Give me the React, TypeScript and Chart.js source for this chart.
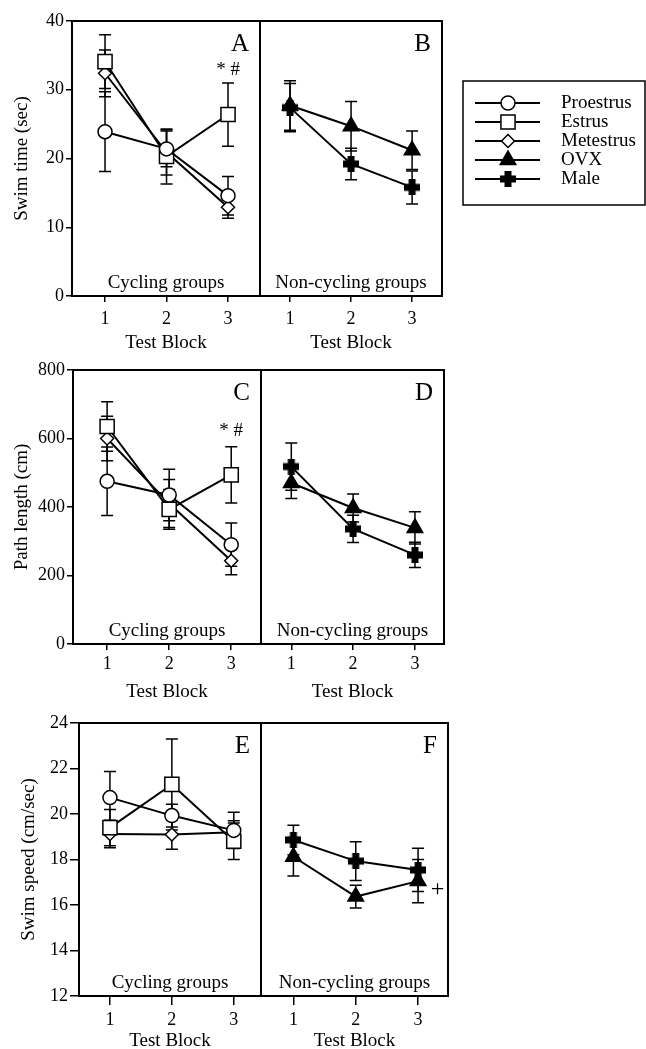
import React, { useEffect, useRef } from 'react';
import { Chart, registerables } from 'chart.js';
import { drawPoint } from 'chart.js/helpers';

Chart.register(...registerables);

const FONT = '"Liberation Serif", "Times New Roman", Times, serif';

// ---------------- data ----------------
const testBlocks = [1, 2, 3];
const seriesNames = ['Proestrus', 'Estrus', 'Metestrus', 'OVX', 'Male'];
const panelLetters = ['A', 'B', 'C', 'D', 'E', 'F'];
const groupLabels = ['Cycling groups', 'Non-cycling groups'];
const xAxisTitle = 'Test Block';
const yAxisTitles = ['Swim time (sec)', 'Path length (cm)', 'Swim speed (cm/sec)'];

const swimTimeTicks = [0, 10, 20, 30, 40];
const pathLengthTicks = [0, 200, 400, 600, 800];
const swimSpeedTicks = [12, 14, 16, 18, 20, 22, 24];

// Swim time (sec) - panels A, B
const timeProestrus = [23.9, 21.4, 14.6];
const timeProestrusSem = [5.8, 2.6, 2.8];
const timeEstrus = [34.1, 20.3, 26.4];
const timeEstrusSem = [3.9, 4.0, 4.6];
const timeMetestrus = [32.4, 20.9, 12.9];
const timeMetestrusSem = [3.4, 3.3, 1.6];
const timeOVX = [27.7, 24.7, 21.2];
const timeOVXSem = [3.6, 3.6, 2.8];
const timeMale = [27.4, 19.2, 15.8];
const timeMaleSem = [3.5, 2.3, 2.4];

// Path length (cm) - panels C, D
const pathProestrus = [475, 435, 290];
const pathProestrusSem = [100, 75, 63];
const pathEstrus = [635, 393, 494];
const pathEstrusSem = [72, 58, 82];
const pathMetestrus = [600, 410, 243];
const pathMetestrusSem = [65, 70, 41];
const pathOVX = [470, 397, 339];
const pathOVXSem = [45, 41, 47];
const pathMale = [518, 336, 260];
const pathMaleSem = [69, 40, 37];

// Swim speed (cm/sec) - panels E, F
const speedProestrus = [20.72, 19.93, 19.28];
const speedProestrusSem = [1.15, 0.5, 0.8];
const speedEstrus = [19.4, 21.3, 18.8];
const speedEstrusSem = [0.8, 2.0, 0.8];
const speedMetestrus = [19.12, 19.1, 19.2];
const speedMetestrusSem = [0.6, 0.65, 0.5];
const speedOVX = [18.12, 16.37, 17.05];
const speedOVXSem = [0.85, 0.5, 0.95];
const speedMale = [18.86, 17.93, 17.54];
const speedMaleSem = [0.65, 0.85, 0.95];

// significance marks: [block, value]
const sigTimeEstrus = { text: '* #', block: 3, value: 32.8 };
const sigPathEstrus = { text: '* #', block: 3, value: 622 };
const sigSpeedOVX = { text: '+', block: 3.31, value: 16.66 };

// ---------------- layout ----------------
const rows = [
  { top: 21, bottom: 296, titleY: 342, tickGap: 23, tickLen: 6 },
  { top: 370, bottom: 644, titleY: 691, tickGap: 20, tickLen: 6 },
  { top: 723, bottom: 996, titleY: 1040, tickGap: 24, tickLen: 9 },
];

type Series = { name: string; values: number[]; sem: number[] };
type Note = { text: string; block: number; value: number; size: number };
type Panel = {
  letter: string; row: number; left: number; right: number;
  xMin: number; xMax: number; yMin: number; yMax: number;
  yAxis: null | { ticks: number[]; title: string; titleX: number };
  series: Series[]; group: string; notes: Note[];
};

const panels: Panel[] = [
  {
    letter: panelLetters[0], row: 0, left: 72, right: 260, xMin: 0.463, xMax: 3.52, yMin: 0, yMax: 40,
    yAxis: { ticks: swimTimeTicks, title: yAxisTitles[0], titleX: 22 },
    series: [
      { name: seriesNames[0], values: timeProestrus, sem: timeProestrusSem },
      { name: seriesNames[1], values: timeEstrus, sem: timeEstrusSem },
      { name: seriesNames[2], values: timeMetestrus, sem: timeMetestrusSem },
    ],
    group: groupLabels[0], notes: [{ ...sigTimeEstrus, size: 19 }],
  },
  {
    letter: panelLetters[1], row: 0, left: 260, right: 442, xMin: 0.508, xMax: 3.49, yMin: 0, yMax: 40,
    yAxis: null,
    series: [
      { name: seriesNames[4], values: timeMale, sem: timeMaleSem },
      { name: seriesNames[3], values: timeOVX, sem: timeOVXSem },
    ],
    group: groupLabels[1], notes: [],
  },
  {
    letter: panelLetters[2], row: 1, left: 73, right: 261, xMin: 0.45, xMax: 3.48, yMin: 0, yMax: 800,
    yAxis: { ticks: pathLengthTicks, title: yAxisTitles[1], titleX: 22 },
    series: [
      { name: seriesNames[0], values: pathProestrus, sem: pathProestrusSem },
      { name: seriesNames[1], values: pathEstrus, sem: pathEstrusSem },
      { name: seriesNames[2], values: pathMetestrus, sem: pathMetestrusSem },
    ],
    group: groupLabels[0], notes: [{ ...sigPathEstrus, size: 19 }],
  },
  {
    letter: panelLetters[3], row: 1, left: 261, right: 444, xMin: 0.51, xMax: 3.47, yMin: 0, yMax: 800,
    yAxis: null,
    series: [
      { name: seriesNames[4], values: pathMale, sem: pathMaleSem },
      { name: seriesNames[3], values: pathOVX, sem: pathOVXSem },
    ],
    group: groupLabels[1], notes: [],
  },
  {
    letter: panelLetters[4], row: 2, left: 79, right: 261, xMin: 0.5, xMax: 3.44, yMin: 12, yMax: 24,
    yAxis: { ticks: swimSpeedTicks, title: yAxisTitles[2], titleX: 29 },
    series: [
      { name: seriesNames[0], values: speedProestrus, sem: speedProestrusSem },
      { name: seriesNames[1], values: speedEstrus, sem: speedEstrusSem },
      { name: seriesNames[2], values: speedMetestrus, sem: speedMetestrusSem },
    ],
    group: groupLabels[0], notes: [],
  },
  {
    letter: panelLetters[5], row: 2, left: 261, right: 448, xMin: 0.48, xMax: 3.48, yMin: 12, yMax: 24,
    yAxis: null,
    series: [
      { name: seriesNames[4], values: speedMale, sem: speedMaleSem },
      { name: seriesNames[3], values: speedOVX, sem: speedOVXSem },
    ],
    group: groupLabels[1], notes: [{ ...sigSpeedOVX, size: 24 }],
  },
];

// ---------------- markers ----------------
let plusCanvas: HTMLCanvasElement | null = null;
function getPlus(): HTMLCanvasElement {
  if (plusCanvas) return plusCanvas;
  const size = 16, arm = 7;
  const c = document.createElement('canvas');
  c.width = size; c.height = size;
  const g = c.getContext('2d')!;
  g.fillStyle = '#000';
  const o = (size - arm) / 2;
  g.fillRect(o, 0, arm, size);
  g.fillRect(0, o, size, arm);
  plusCanvas = c;
  return c;
}

function markerFor(name: string) {
  switch (name) {
    case 'Proestrus': return { style: 'circle' as any, radius: 7, fill: '#fff' };
    case 'Estrus': return { style: 'rect' as any, radius: 10, fill: '#fff' };
    case 'Metestrus': return { style: 'rectRot' as any, radius: 6.5, fill: '#fff' };
    case 'OVX': return { style: 'triangle' as any, radius: 9, fill: '#000' };
    default: return { style: getPlus() as any, radius: 8, fill: '#000' };
  }
}

// ---------------- plugins ----------------
const errorBarPlugin = {
  id: 'errorBars',
  beforeDatasetsDraw(chart: any) {
    const ctx = chart.ctx;
    const xs = chart.scales.x, ys = chart.scales.y;
    ctx.save();
    ctx.strokeStyle = '#000';
    ctx.lineWidth = 1.5;
    chart.data.datasets.forEach((ds: any) => {
      ds.data.forEach((p: any, i: number) => {
        const e = ds.errors[i];
        const x = xs.getPixelForValue(p.x);
        const yHi = ys.getPixelForValue(p.y + e);
        const yLo = ys.getPixelForValue(p.y - e);
        ctx.beginPath();
        ctx.moveTo(x, yHi); ctx.lineTo(x, yLo);
        ctx.moveTo(x - 6, yHi); ctx.lineTo(x + 6, yHi);
        ctx.moveTo(x - 6, yLo); ctx.lineTo(x + 6, yLo);
        ctx.stroke();
      });
    });
    ctx.restore();
  },
};

function makeFramePlugin(p: Panel) {
  return {
    id: 'frame',
    afterDatasetsDraw(chart: any) {
      const ctx = chart.ctx;
      const { left, top, right, bottom } = chart.chartArea;
      const xs = chart.scales.x, ys = chart.scales.y;
      ctx.save();
      ctx.strokeStyle = '#000';
      ctx.lineWidth = 2;
      ctx.strokeRect(left, top, right - left, bottom - top);
      ctx.fillStyle = '#000';
      ctx.font = `25px ${FONT}`;
      ctx.textAlign = 'right';
      ctx.textBaseline = 'middle';
      ctx.fillText(p.letter, right - 11, top + 23);
      ctx.font = `19px ${FONT}`;
      ctx.textAlign = 'center';
      ctx.fillText(p.group, (left + right) / 2, bottom - 13);
      p.notes.forEach((n) => {
        ctx.font = `${n.size}px ${FONT}`;
        ctx.fillText(n.text, xs.getPixelForValue(n.block), ys.getPixelForValue(n.value));
      });
      ctx.restore();
    },
  };
}

function panelGeometry(p: Panel) {
  const row = rows[p.row];
  const cx = p.yAxis ? 0 : p.left - 3;
  const cy = Math.max(0, row.top - 25);
  const cw = p.right + 3 - cx;
  const ch = row.titleY + 12 - cy;
  return { cx, cy, cw, ch, row };
}

function panelConfig(p: Panel): any {
  const { cx, cy, cw, ch, row } = panelGeometry(p);
  const xHeight = cy + ch - row.bottom;
  const titlePad = cy + ch - row.titleY - 11.4;
  const tickPad = row.tickGap - row.tickLen - 10.8;
  const yWidth = p.left - cx;
  const datasets = p.series.map((s) => {
    const m = markerFor(s.name);
    return {
      label: s.name,
      data: testBlocks.map((b, i) => ({ x: b, y: s.values[i] })),
      errors: s.sem,
      borderColor: '#000',
      borderWidth: 2,
      pointStyle: m.style,
      pointRadius: m.radius,
      pointHoverRadius: m.radius,
      pointBackgroundColor: m.fill,
      pointBorderColor: '#000',
      pointBorderWidth: 1.5,
      tension: 0,
      fill: false,
      clip: false,
    };
  });
  return {
    type: 'line',
    data: { datasets },
    options: {
      animation: false,
      responsive: false,
      events: [],
      layout: {
        autoPadding: false,
        padding: { left: p.yAxis ? 0 : p.left - cx, top: row.top - cy, right: cx + cw - p.right, bottom: 0 },
      },
      plugins: { legend: { display: false }, tooltip: { enabled: false } },
      scales: {
        x: {
          type: 'linear',
          min: p.xMin,
          max: p.xMax,
          afterBuildTicks: (s: any) => { s.ticks = testBlocks.map((v) => ({ value: v })); },
          afterFit: (s: any) => { s.height = xHeight; },
          border: { display: false },
          grid: { display: true, drawOnChartArea: false, drawTicks: true, tickLength: row.tickLen, color: '#000', lineWidth: 1.5 },
          ticks: { color: '#000', font: { size: 18, family: FONT }, padding: tickPad, maxRotation: 0, autoSkip: false, callback: (v: any) => String(v) },
          title: { display: true, text: xAxisTitle, color: '#000', font: { size: 19, family: FONT }, padding: { top: titlePad, bottom: 0 } },
        },
        y: p.yAxis
          ? {
              type: 'linear',
              min: p.yMin,
              max: p.yMax,
              afterBuildTicks: (s: any) => { s.ticks = p.yAxis!.ticks.map((v) => ({ value: v })); },
              afterFit: (s: any) => { s.width = yWidth; },
              border: { display: false },
              grid: { display: true, drawOnChartArea: false, drawTicks: true, tickLength: row.tickLen, color: '#000', lineWidth: 1.5 },
              ticks: { color: '#000', font: { size: 18, family: FONT }, padding: 2, callback: (v: any) => String(v) },
              title: { display: true, text: p.yAxis.title, color: '#000', font: { size: 19, family: FONT }, padding: { top: p.yAxis.titleX - 11.4, bottom: 0 } },
            }
          : { type: 'linear', min: p.yMin, max: p.yMax, display: false },
      },
    },
    plugins: [errorBarPlugin, makeFramePlugin(p)],
  };
}

// legend geometry (page coords)
const legendCanvas = { x: 460, y: 78, w: 186, h: 132 };
const legendLayout = { boxL: 463, boxT: 81, boxR: 645, boxB: 205, firstY: 103, gap: 19, lineX0: 475, lineX1: 540, markX: 508, textX: 561 };

function legendConfig(): any {
  const L = legendLayout, C = legendCanvas;
  const datasets = seriesNames.map((n) => {
    const m = markerFor(n);
    return { label: n, data: [], pointStyle: m.style, pointRadius: m.radius, pointBackgroundColor: m.fill, borderColor: '#000' };
  });
  const plugin = {
    id: 'boxLegend',
    afterDraw(chart: any) {
      const ctx = chart.ctx;
      ctx.save();
      ctx.strokeStyle = '#000';
      ctx.lineWidth = 1.5;
      ctx.strokeRect(L.boxL - C.x, L.boxT - C.y, L.boxR - L.boxL, L.boxB - L.boxT);
      chart.data.datasets.forEach((ds: any, i: number) => {
        const y = L.firstY - C.y + i * L.gap;
        ctx.lineWidth = 2;
        ctx.strokeStyle = '#000';
        ctx.beginPath();
        ctx.moveTo(L.lineX0 - C.x, y);
        ctx.lineTo(L.lineX1 - C.x, y);
        ctx.stroke();
        ctx.fillStyle = ds.pointBackgroundColor;
        ctx.lineWidth = 1.5;
        drawPoint(ctx, { pointStyle: ds.pointStyle, radius: ds.pointRadius, rotation: 0, borderWidth: 1.5 } as any, L.markX - C.x, y);
        ctx.fillStyle = '#000';
        ctx.font = `19px ${FONT}`;
        ctx.textAlign = 'left';
        ctx.textBaseline = 'middle';
        ctx.fillText(ds.label, L.textX - C.x, y);
      });
      ctx.restore();
    },
  };
  return {
    type: 'line',
    data: { datasets },
    options: {
      animation: false,
      responsive: false,
      events: [],
      layout: { autoPadding: false },
      plugins: { legend: { display: false }, tooltip: { enabled: false } },
      scales: { x: { display: false }, y: { display: false } },
    },
    plugins: [plugin],
  };
}

function ChartCanvas({ x, y, w, h, make }: { x: number; y: number; w: number; h: number; make: () => any }) {
  const ref = useRef<HTMLCanvasElement>(null);
  useEffect(() => {
    const chart = new Chart(ref.current as HTMLCanvasElement, make());
    return () => chart.destroy();
  }, []);
  return (
    <canvas
      ref={ref}
      width={w}
      height={h}
      style={{ position: 'absolute', left: x, top: y, width: w, height: h }}
    />
  );
}

export default function App() {
  return (
    <div style={{ position: 'absolute', left: 0, top: 0, width: 646, height: 1049, background: '#fff' }}>
      {panels.map((p) => {
        const g = panelGeometry(p);
        return <ChartCanvas key={p.letter} x={g.cx} y={g.cy} w={g.cw} h={g.ch} make={() => panelConfig(p)} />;
      })}
      <ChartCanvas x={legendCanvas.x} y={legendCanvas.y} w={legendCanvas.w} h={legendCanvas.h} make={legendConfig} />
    </div>
  );
}
